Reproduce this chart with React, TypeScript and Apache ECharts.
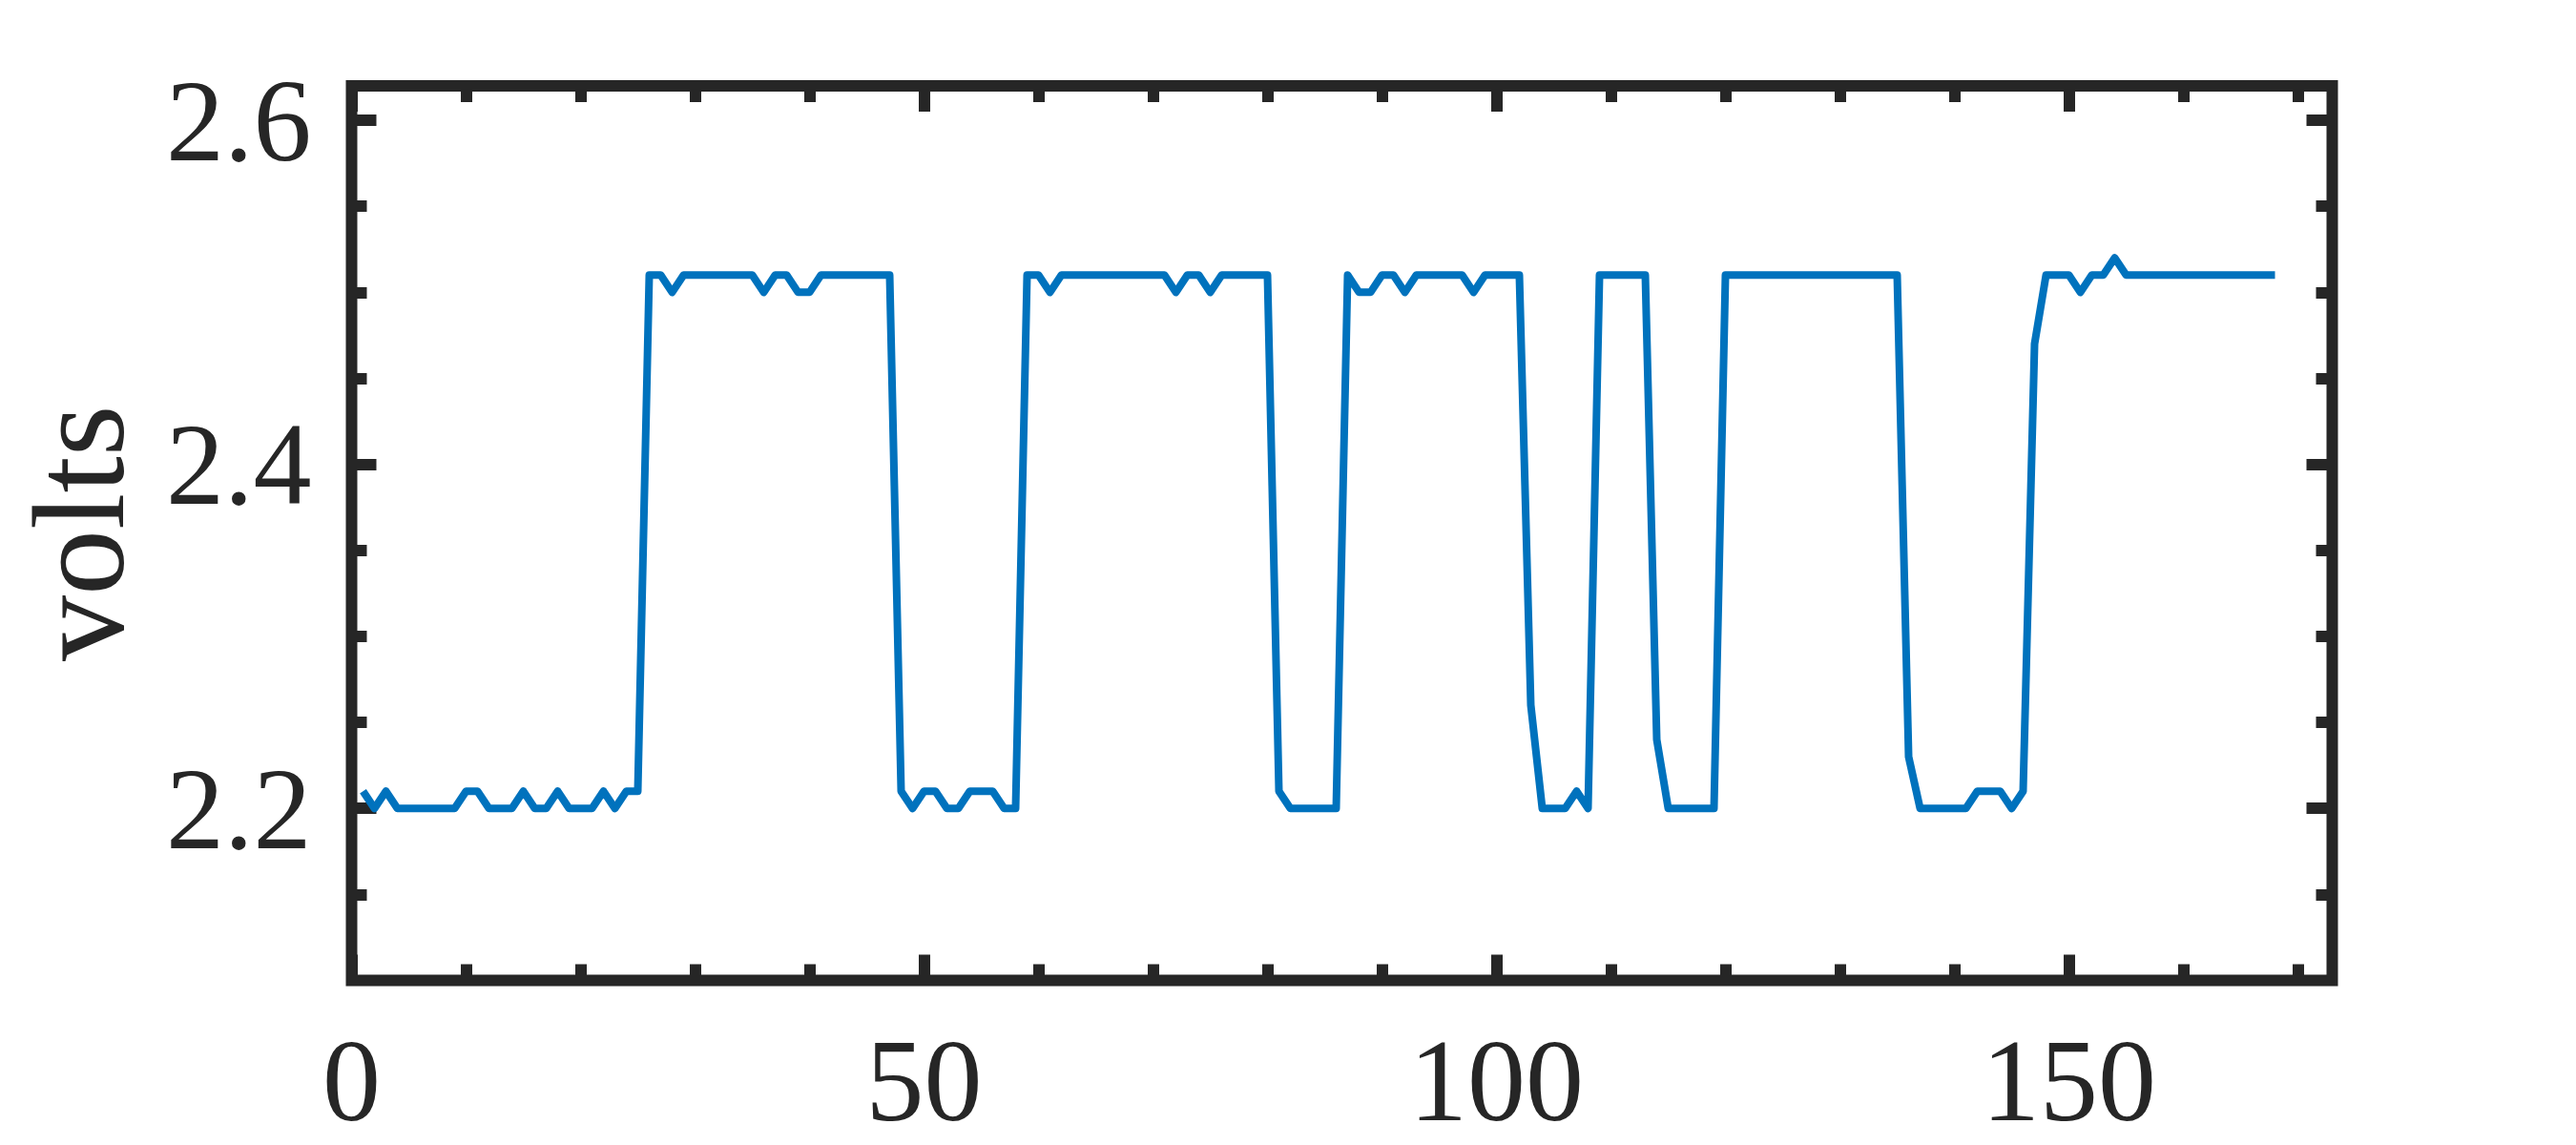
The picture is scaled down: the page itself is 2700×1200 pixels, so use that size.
import React, { useEffect, useRef } from "react";
import * as echarts from "echarts";

// Sample values (volts), one per sample index 1..168
const volts: number[] = [
  2.21, 2.2, 2.21, 2.2, 2.2, 2.2, 2.2, 2.2, 2.2, 2.21,
  2.21, 2.2, 2.2, 2.2, 2.21, 2.2, 2.2, 2.21, 2.2, 2.2,
  2.2, 2.21, 2.2, 2.21, 2.21, 2.51, 2.51, 2.5, 2.51, 2.51,
  2.51, 2.51, 2.51, 2.51, 2.51, 2.5, 2.51, 2.51, 2.5, 2.5,
  2.51, 2.51, 2.51, 2.51, 2.51, 2.51, 2.51, 2.21, 2.2, 2.21,
  2.21, 2.2, 2.2, 2.21, 2.21, 2.21, 2.2, 2.2, 2.51, 2.51,
  2.5, 2.51, 2.51, 2.51, 2.51, 2.51, 2.51, 2.51, 2.51, 2.51,
  2.51, 2.5, 2.51, 2.51, 2.5, 2.51, 2.51, 2.51, 2.51, 2.51,
  2.21, 2.2, 2.2, 2.2, 2.2, 2.2, 2.51, 2.5, 2.5, 2.51,
  2.51, 2.5, 2.51, 2.51, 2.51, 2.51, 2.51, 2.5, 2.51, 2.51,
  2.51, 2.51, 2.26, 2.2, 2.2, 2.2, 2.21, 2.2, 2.51, 2.51,
  2.51, 2.51, 2.51, 2.24, 2.2, 2.2, 2.2, 2.2, 2.2, 2.51,
  2.51, 2.51, 2.51, 2.51, 2.51, 2.51, 2.51, 2.51, 2.51, 2.51,
  2.51, 2.51, 2.51, 2.51, 2.51, 2.23, 2.2, 2.2, 2.2, 2.2,
  2.2, 2.21, 2.21, 2.21, 2.2, 2.21, 2.47, 2.51, 2.51, 2.51,
  2.5, 2.51, 2.51, 2.52, 2.51, 2.51, 2.51, 2.51, 2.51, 2.51,
  2.51, 2.51, 2.51, 2.51, 2.51, 2.51, 2.51, 2.51,
];

const xMin = 0;
const xMax = 173;
const yMin = 2.1;
const yMax = 2.62;
const xMajorTicks = [0, 50, 100, 150];
const xMinorTicks = [10, 20, 30, 40, 60, 70, 80, 90, 110, 120, 130, 140, 160, 170];
const yMajorTicks = [2.2, 2.4, 2.6];
const yMinorTicks = [2.15, 2.25, 2.3, 2.35, 2.45, 2.5, 2.55];
const yAxisTitle = "volts";

const INK = "#262626";
const LINE = "#0072BD";
const FONT = "'Liberation Serif', 'Times New Roman', serif";
const TICK_W = 12;

function xAxisDef(position: string, ticks: number[], len: number, labels: boolean) {
  return {
    type: "value",
    position,
    offset: 0,
    min: xMin,
    max: xMax,
    axisLine: { show: false, onZero: false },
    splitLine: { show: false },
    axisTick: {
      show: true,
      inside: true,
      length: len,
      customValues: ticks,
      lineStyle: { color: INK, width: TICK_W },
    },
    axisLabel: labels
      ? {
          show: true,
          customValues: ticks,
          margin: 44,
          fontFamily: FONT,
          fontSize: 122,
          color: INK,
        }
      : { show: false },
  };
}

function yAxisDef(position: string, ticks: number[], len: number, labels: boolean, title?: string) {
  const def: any = {
    type: "value",
    position,
    offset: 0,
    min: yMin,
    max: yMax,
    axisLine: { show: false, onZero: false },
    splitLine: { show: false },
    axisTick: {
      show: true,
      inside: true,
      length: len,
      customValues: ticks,
      lineStyle: { color: INK, width: TICK_W },
    },
    axisLabel: labels
      ? {
          show: true,
          customValues: ticks,
          margin: 42,
          fontFamily: FONT,
          fontSize: 122,
          color: INK,
          formatter: (v: number) => v.toFixed(1),
        }
      : { show: false },
  };
  if (title) {
    def.name = title;
    def.nameLocation = "middle";
    def.nameRotate = 90;
    def.nameGap = 217;
    def.nameMoveOverlap = false;
    def.nameTextStyle = { fontFamily: FONT, fontSize: 138, color: INK };
  }
  return def;
}

export default function App() {
  const ref = useRef<HTMLDivElement>(null);

  useEffect(() => {
    if (!ref.current) return;
    const chart = echarts.init(ref.current, null, { renderer: "svg" });
    const points = volts.map((v, i) => [i + 1, v]);
    chart.setOption({
      animation: false,
      backgroundColor: "#ffffff",
      grid: {
        left: 368.5,
        right: 255.5,
        top: 90,
        bottom: 172.5,
        containLabel: false,
        outerBoundsMode: "none",
        show: true,
        borderColor: INK,
        borderWidth: 12,
        backgroundColor: "#ffffff",
      },
      xAxis: [
        xAxisDef("bottom", xMajorTicks, 27, true),
        xAxisDef("bottom", xMinorTicks, 17, false),
        xAxisDef("top", xMajorTicks, 27, false),
        xAxisDef("top", xMinorTicks, 17, false),
      ],
      yAxis: [
        yAxisDef("left", yMajorTicks, 26, true, yAxisTitle),
        yAxisDef("left", yMinorTicks, 16, false),
        yAxisDef("right", yMajorTicks, 27, false),
        yAxisDef("right", yMinorTicks, 17, false),
      ],
      series: [
        {
          type: "line",
          xAxisIndex: 0,
          yAxisIndex: 0,
          data: points,
          showSymbol: false,
          clip: true,
          lineStyle: { color: LINE, width: 8, join: "round", cap: "butt" },
        },
      ],
    });
    return () => chart.dispose();
  }, []);

  return (
    <div
      ref={ref}
      style={{ position: "absolute", left: 0, top: 0, width: 2700, height: 1200, background: "#fff" }}
    />
  );
}
